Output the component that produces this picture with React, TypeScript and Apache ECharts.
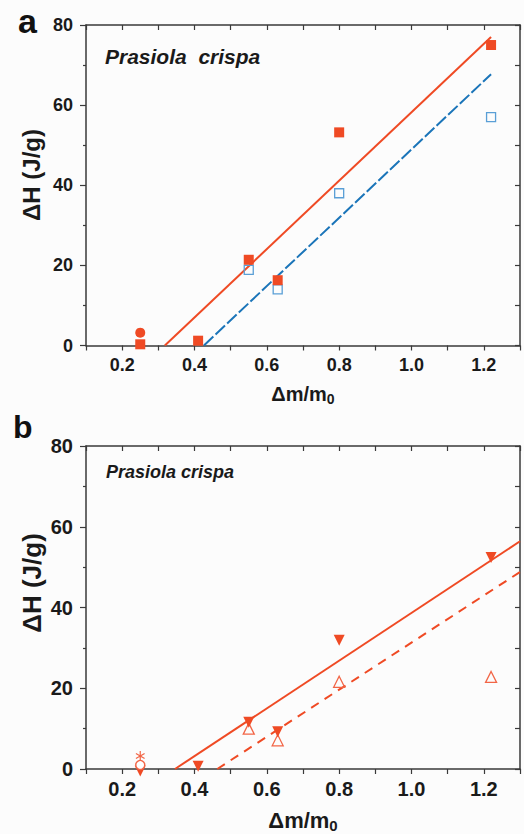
import React, { useEffect, useRef } from "react";
import * as echarts from "echarts";

// ---- Panel a data ----
const aFilledSquares: number[][] = [[0.25, 0.3], [0.41, 1.2], [0.55, 21.4], [0.63, 16.3], [0.8, 53.2], [1.22, 75]];
const aFilledCircle: number[][] = [[0.25, 3.2]];
const aOpenSquares: number[][] = [[0.55, 18.9], [0.63, 14.0], [0.8, 38.0], [1.22, 57.0]];
const aFitSolid: number[][] = [[0.318, 0], [1.22, 77]];
const aFitDashed: number[][] = [[0.426, 0], [1.22, 67.7]];

// ---- Panel b data ----
const bFilledDown: number[][] = [[0.25, -0.5], [0.41, 0.7], [0.55, 11.6], [0.63, 9.2], [0.8, 31.9], [1.22, 52.4]];
const bOpenUp: number[][] = [[0.55, 10.0], [0.63, 7.1], [0.8, 21.6], [1.22, 22.8]];
const bOpenCircle: number[][] = [[0.25, 1.0]];
const bAsterisk: number[][] = [[0.25, 3.2]];
const bFitSolid: number[][] = [[0.346, 0], [1.3, 56.4]];
const bFitDashed: number[][] = [[0.463, 0], [1.3, 48.8]];

const xMin = 0.1;
const xMax = 1.3;
const yMin = 0;
const yMax = 80;
const speciesA = "Prasiola  crispa";
const speciesB = "Prasiola crispa";
const yTitle = "ΔH (J/g)";

const RED = "#EF4A24";
const RED_OPEN = "#F26546";
const BLUE = "#1B75B9";
const BLUE_OPEN = "#5A9FD6";
const AXIS = "#3a3a3a";
const FONT = "'Liberation Sans', Arial, sans-serif";

function xLabel(v: number) {
  const k = Math.round(v * 10);
  return k % 2 === 0 && k >= 2 && k <= 12 ? (k / 10).toFixed(1) : "";
}

function bottomX(grid: number, fontSize: number, nameGap: number, nameSize: number) {
  return {
    type: "value", gridIndex: grid, min: xMin, max: xMax, interval: 0.1, position: "bottom",
    axisLine: { show: true, onZero: false, lineStyle: { color: AXIS, width: 1.5 } },
    axisTick: { show: true, inside: false, length: 5, lineStyle: { color: AXIS, width: 1.2 } },
    splitLine: { show: false },
    axisLabel: { formatter: xLabel, fontSize, fontWeight: "bold", color: "#1a1a1a", fontFamily: FONT, margin: 10 },
    name: "{m|Δm/m}{s|0}",
    nameLocation: "middle",
    nameGap,
    nameTextStyle: {
      rich: {
        m: { fontSize: nameSize, fontWeight: "bold", color: "#1a1a1a", fontFamily: FONT },
        s: { fontSize: Math.round(nameSize * 0.68), fontWeight: "bold", color: "#1a1a1a", fontFamily: FONT, verticalAlign: "bottom", padding: [Math.round(nameSize * 0.5), 0, 0, 0] },
      },
    },
  };
}
function topX(grid: number) {
  return {
    type: "value", gridIndex: grid, min: xMin, max: xMax, interval: 0.1, position: "top",
    axisLine: { show: true, onZero: false, lineStyle: { color: AXIS, width: 1.5 } },
    axisTick: { show: true, inside: true, length: 5, lineStyle: { color: AXIS, width: 1.2 } },
    axisLabel: { show: false }, splitLine: { show: false },
  };
}
function leftY(grid: number, fontSize: number) {
  return {
    type: "value", gridIndex: grid, min: yMin, max: yMax, interval: 20, position: "left",
    axisLine: { show: true, onZero: false, lineStyle: { color: AXIS, width: 1.5 } },
    axisTick: { show: true, inside: false, length: 6, lineStyle: { color: AXIS, width: 1.2 } },
    minorTick: { show: true, splitNumber: 2, length: 3, lineStyle: { color: AXIS, width: 1.2 } },
    splitLine: { show: false },
    axisLabel: { fontSize, fontWeight: "bold", color: "#1a1a1a", fontFamily: FONT, margin: 13 },
  };
}
function rightY(grid: number) {
  return {
    type: "value", gridIndex: grid, min: yMin, max: yMax, interval: 10, position: "right",
    axisLine: { show: true, onZero: false, lineStyle: { color: AXIS, width: 1.5 } },
    axisTick: { show: true, inside: true, length: 5, lineStyle: { color: AXIS, width: 1.2 } },
    axisLabel: { show: false }, splitLine: { show: false },
  };
}

function fitLine(data: number[][], ax: number, color: string, type: any) {
  return {
    type: "line", xAxisIndex: ax, yAxisIndex: ax, data, showSymbol: false, symbol: "none",
    lineStyle: { color, width: 2, type }, z: 2, clip: true, silent: true,
  };
}
function scatter(data: number[][], ax: number, symbol: string, size: number, fill: string, stroke: string, bw: number, rotate = 0) {
  return {
    type: "scatter", xAxisIndex: ax, yAxisIndex: ax, data, symbol, symbolSize: size, symbolRotate: rotate,
    symbolKeepAspect: true, clip: false, z: 5,
    itemStyle: { color: fill, borderColor: stroke, borderWidth: bw, opacity: 1 },
  };
}

const ASTERISK = "path://M5,0L5,10M0.67,2.5L9.33,7.5M0.67,7.5L9.33,2.5";

export default function App() {
  const ref = useRef<HTMLDivElement>(null);
  useEffect(() => {
    if (!ref.current) return;
    const chart = echarts.init(ref.current, undefined, { renderer: "svg" });
    const option: any = {
      animation: false,
      backgroundColor: "#fcfcfc",
      grid: [
        { left: 86, top: 25, width: 434, height: 320.5 },
        { left: 86, top: 446, width: 434, height: 323 },
      ],
      xAxis: [bottomX(0, 18, 36, 20), topX(0), bottomX(1, 20, 38, 22), topX(1)],
      yAxis: [leftY(0, 18), rightY(0), leftY(1, 20), rightY(1)],
      series: [
        fitLine(aFitSolid, 0, RED, "solid"),
        fitLine(aFitDashed, 0, BLUE, [13, 3]),
        scatter(aOpenSquares, 0, "rect", 9, "transparent", BLUE_OPEN, 1.3),
        scatter(aFilledSquares, 0, "rect", 10, RED, RED, 0),
        scatter(aFilledCircle, 0, "circle", 10, RED, RED, 0),
        fitLine(bFitSolid, 2, RED, "solid"),
        fitLine(bFitDashed, 2, RED, [9, 7]),
        scatter(bOpenUp, 2, "triangle", 11, "transparent", RED_OPEN, 1.3),
        scatter(bFilledDown, 2, "triangle", 11, RED, RED, 0, 180),
        scatter(bOpenCircle, 2, "circle", 9, "#ffffff", RED_OPEN, 1.4),
        scatter(bAsterisk, 2, ASTERISK, 10, "transparent", RED_OPEN, 1.2),
      ],
      graphic: [
        { type: "text", left: 18, top: 4, style: { text: "a", font: `bold 34px ${FONT}`, fill: "#111" } },
        { type: "text", left: 13, top: 411, style: { text: "b", font: `bold 32px ${FONT}`, fill: "#111" } },
        { type: "text", x: 105, y: 56, style: { text: speciesA, font: `italic bold 21px ${FONT}`, fill: "#1a1a1a", textVerticalAlign: "middle" } },
        { type: "text", x: 106, y: 472, style: { text: speciesB, font: `italic bold 18px ${FONT}`, fill: "#1a1a1a", textVerticalAlign: "middle" } },
        { type: "text", x: 31, y: 175, rotation: Math.PI / 2, style: { text: yTitle, font: `bold 24px ${FONT}`, fill: "#1a1a1a", textAlign: "center", textVerticalAlign: "middle" } },
        { type: "text", x: 32, y: 583, rotation: Math.PI / 2, style: { text: yTitle, font: `bold 26px ${FONT}`, fill: "#1a1a1a", textAlign: "center", textVerticalAlign: "middle" } },
      ],
    };
    chart.setOption(option);
    return () => chart.dispose();
  }, []);
  return <div ref={ref} style={{ position: "absolute", left: 0, top: 0, width: 524, height: 834 }} />;
}
